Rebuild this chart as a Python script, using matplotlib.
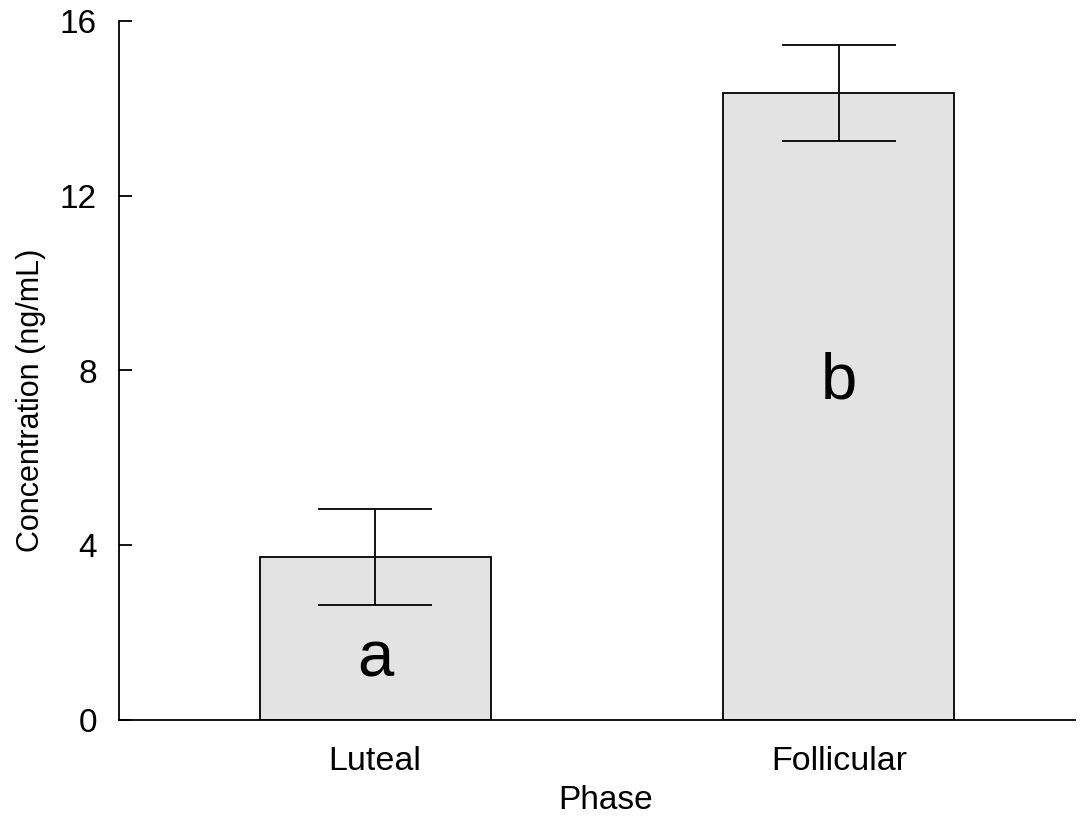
import matplotlib
matplotlib.use("Agg")
import matplotlib.pyplot as plt

phases = ["Luteal", "Follicular"]
means = [3.73, 14.35]
errors = [1.10, 1.10]
letters = ["a", "b"]
letter_y = [0.99, 7.36]

plt.rcParams['font.family'] = ['Liberation Sans', 'DejaVu Sans']

fig = plt.figure(figsize=(10.86, 8.21), dpi=100)
ax = fig.add_axes([119/1086, 101/821, 956/1086, 699/821])

x = list(range(len(phases)))
ax.bar(x, means, width=0.498, color='#e3e3e3', edgecolor='black', linewidth=1.3, zorder=2)
ax.errorbar(x, means, yerr=errors, fmt='none', ecolor='black', elinewidth=1.3,
            capsize=41, capthick=1.3, zorder=3)

for xi, lab, ly in zip(x, letters, letter_y):
    ax.text(xi, ly, lab, ha='center', va='baseline', fontsize=47, zorder=4)

ax.set_xlim(-0.552, 1.509)
ax.set_ylim(0, 16)
ax.set_yticks([0, 4, 8, 12, 16])
ax.set_xticks(x)
ax.set_xticklabels(phases, fontsize=24.5)
ax.tick_params(axis='y', direction='in', length=9, width=1.3, labelsize=24, pad=16)
ax.tick_params(axis='x', length=0, pad=19)
for s in ['top', 'right']:
    ax.spines[s].set_visible(False)
for s in ['left', 'bottom']:
    ax.spines[s].set_linewidth(1.3)

ax.set_ylabel("Concentration (ng/mL)", fontsize=22)
ax.yaxis.set_label_coords(-0.076, 0.458)
ax.set_xlabel("Phase", fontsize=24)
ax.xaxis.set_label_coords(0.509, -0.093)

fig.savefig("out.png", dpi=100)
